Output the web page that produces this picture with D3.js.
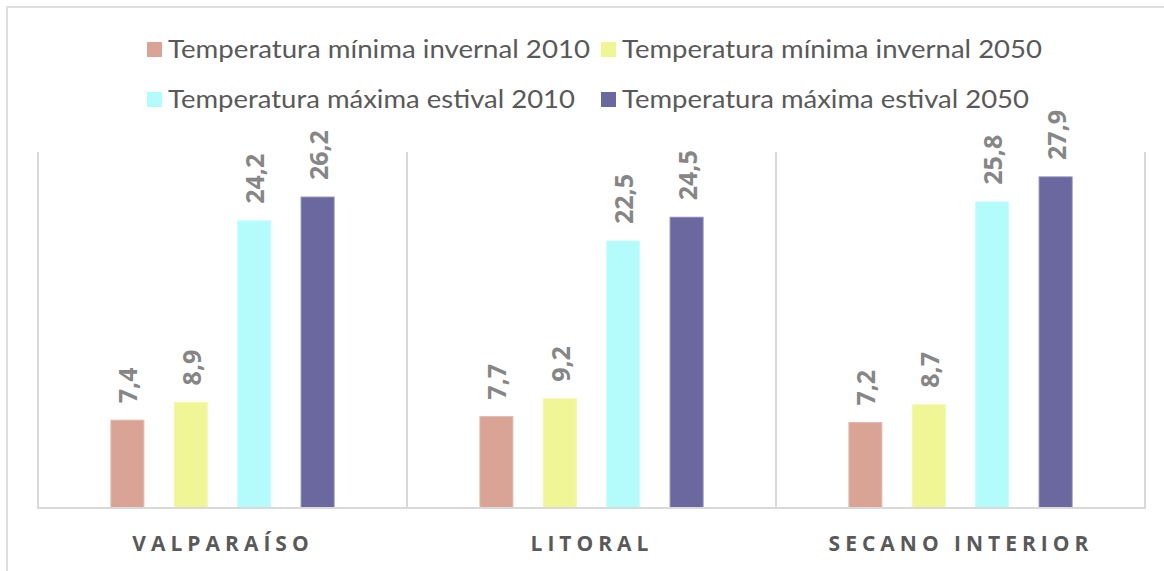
<!DOCTYPE html>
<html>
<head>
<meta charset="utf-8">
<script src="https://cdn.jsdelivr.net/npm/d3@7"></script>
<style>
  body { margin: 0; background: #fff; }
</style>
</head>
<body>
<div class="chart"></div>
<script>
const categories = ['VALPARAÍSO', 'LITORAL', 'SECANO INTERIOR'];
const seriesNames = [
  'Temperatura mínima invernal 2010',
  'Temperatura mínima invernal 2050',
  'Temperatura máxima estival 2010',
  'Temperatura máxima estival 2050'
];
const min2010 = [7.4, 7.7, 7.2];
const min2050 = [8.9, 9.2, 8.7];
const max2010 = [24.2, 22.5, 25.8];
const max2050 = [26.2, 24.5, 27.9];
const seriesColors = ['#d9a396', '#f0f696', '#b4fcfc', '#6b689f'];
const seriesStrokes = ['#e3b8ae', '#f3f7b0', '#c6fdfd', '#8a87b8'];

const seriesValues = [min2010, min2050, max2010, max2050];

const width = 1164, height = 571;
const plot = {left: 38, right: 1145, top: 152, bottom: 508};

const svg = d3.select('.chart')
              .append('svg')
              .attr('width', width)
              .attr('height', height);

// outer frame (cropped screenshot shows only top and left)
svg.append('rect')
   .attr('x', 7).attr('y', 7)
   .attr('width', 1200).attr('height', 600)
   .attr('fill', 'none')
   .attr('stroke', '#dedede')
   .attr('stroke-width', 2);

const x0 = d3.scaleBand()
             .domain(categories)
             .range([plot.left, plot.right])
             .padding(0);

const x1 = d3.scaleBand()
             .domain(d3.range(seriesNames.length))
             .range([0, x0.bandwidth()])
             .paddingInner(0.48)
             .paddingOuter(1.15);

const y = d3.scaleLinear()
            .domain([0, 30])
            .range([plot.bottom, plot.top]);

// category separators
const seps = [...categories.map(c => x0(c)), plot.right];
svg.append('g')
   .selectAll('line')
   .data(seps)
   .enter()
   .append('line')
   .attr('x1', d => d).attr('x2', d => d)
   .attr('y1', plot.top).attr('y2', plot.bottom)
   .attr('stroke', '#d9d9d9')
   .attr('stroke-width', 2);

// bars
const groups = svg.append('g')
                  .selectAll('g')
                  .data(categories)
                  .enter()
                  .append('g')
                  .attr('transform', d => `translate(${x0(d)},0)`);

const barData = (c, ci) => seriesValues.map((vals, si) => ({si, value: vals[ci]}));

groups.selectAll('rect')
      .data((c, ci) => barData(c, ci))
      .enter()
      .append('rect')
      .attr('x', d => x1(d.si))
      .attr('width', x1.bandwidth())
      .attr('y', d => y(d.value))
      .attr('height', d => y(0) - y(d.value))
      .attr('fill', d => seriesColors[d.si])
      .attr('stroke', d => seriesStrokes[d.si])
      .attr('stroke-width', 1);

// value labels, rotated
groups.selectAll('text')
      .data((c, ci) => barData(c, ci))
      .enter()
      .append('text')
      .attr('transform', d => `translate(${x1(d.si) + x1.bandwidth() / 2 + 1},${y(d.value) - 17}) rotate(-90)`)
      .attr('dy', '0.36em')
      .attr('font-family', 'Open Sans')
      .attr('font-weight', 'bold')
      .attr('font-size', 25)
      .attr('fill', '#868686')
      .text(d => d3.format('.1f')(d.value).replace('.', ','));

// baseline
svg.append('line')
   .attr('x1', plot.left - 1).attr('x2', plot.right + 1)
   .attr('y1', plot.bottom).attr('y2', plot.bottom)
   .attr('stroke', '#d9d9d9')
   .attr('stroke-width', 2);

// category labels
const letterSpacing = 5;
svg.append('g')
   .selectAll('text')
   .data(categories)
   .enter()
   .append('text')
   .attr('x', d => x0(d) + x0.bandwidth() / 2 + letterSpacing / 2 - 2)
   .attr('y', 551)
   .attr('text-anchor', 'middle')
   .attr('font-family', 'Open Sans')
   .attr('font-weight', 'bold')
   .attr('font-size', 21)
   .attr('letter-spacing', letterSpacing)
   .attr('fill', '#595959')
   .text(d => d);

// legend
const legendCols = [147, 601];
const legendRows = [58, 108];
const legendWidths = [422, 420, 407, 407];
const legend = svg.append('g');

legend.selectAll('rect')
      .data(seriesNames)
      .enter()
      .append('rect')
      .attr('x', (d, i) => legendCols[i % 2])
      .attr('y', (d, i) => legendRows[Math.floor(i / 2)] - 16)
      .attr('width', 15)
      .attr('height', 15)
      .attr('fill', (d, i) => seriesColors[i]);

legend.selectAll('text')
      .data(seriesNames)
      .enter()
      .append('text')
      .attr('x', (d, i) => legendCols[i % 2] + 21)
      .attr('y', (d, i) => legendRows[Math.floor(i / 2)])
      .attr('font-family', 'Lato')
      .attr('font-size', 25)
      .attr('fill', '#595959')
      .attr('textLength', (d, i) => legendWidths[i])
      .attr('lengthAdjust', 'spacingAndGlyphs')
      .text(d => d);
</script>
</body>
</html>
